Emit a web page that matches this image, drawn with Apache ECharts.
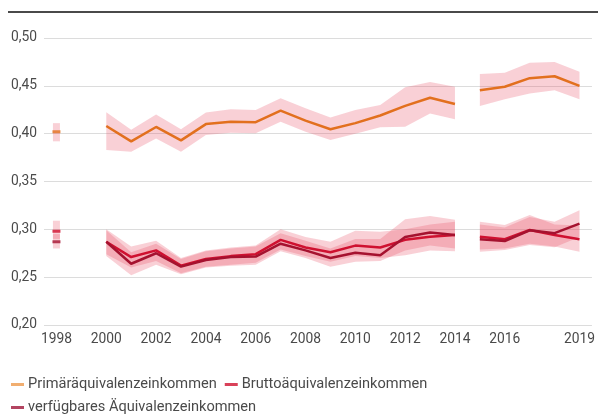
<!DOCTYPE html>
<html><head><meta charset="utf-8">
<script src="https://cdn.jsdelivr.net/npm/echarts@6/dist/echarts.min.js"></script>
<style>html,body{margin:0;padding:0;background:#fff}#c{width:598px;height:415px}</style>
</head><body><div id="c"></div>
<script>
const years = ['1998','1999','2000','2001','2002','2003','2004','2005','2006','2007','2008','2009','2010','2011','2012','2013','2014','2015','2016','2017','2018','2019'];
const shownLabels = ['1998','2000','2002','2004','2006','2008','2010','2012','2014','2016','2019'];
const segments = [['1998','1998'],['2000','2014'],['2015','2019']];
const yTicks = [0.20,0.25,0.30,0.35,0.40,0.45,0.50];

const primaer   = [0.402,null,0.408,0.392,0.407,0.393,0.410,0.4125,0.412,0.424,0.4136,0.4046,0.411,0.419,0.429,0.4375,0.431,0.4455,0.449,0.458,0.460,0.450];
const primaerLo = [0.392,null,0.383,0.381,0.395,0.381,0.3985,0.401,0.4005,0.4125,0.402,0.3935,0.400,0.4066,0.4073,0.421,0.415,0.429,0.436,0.442,0.4455,0.436];
const primaerHi = [0.411,null,0.4225,0.404,0.420,0.4045,0.422,0.4255,0.4247,0.437,0.4265,0.417,0.4247,0.430,0.4484,0.454,0.449,0.4624,0.4637,0.474,0.475,0.4648];

const brutto   = [0.298,null,0.287,0.271,0.278,0.262,0.269,0.272,0.274,0.289,0.281,0.276,0.283,0.281,0.289,0.2923,0.294,0.2923,0.2896,0.2993,0.294,0.2896];
const bruttoLo = [0.290,null,0.274,0.260,0.267,0.254,0.261,0.263,0.265,0.279,0.272,0.266,0.272,0.270,0.273,0.278,0.277,0.279,0.280,0.285,0.282,0.2766];
const bruttoHi = [0.309,null,0.300,0.282,0.288,0.270,0.278,0.281,0.283,0.300,0.292,0.287,0.2986,0.2975,0.300,0.305,0.308,0.308,0.3045,0.315,0.305,0.304];

const verf   = [0.287,null,0.287,0.264,0.275,0.261,0.268,0.271,0.2715,0.285,0.278,0.270,0.2756,0.273,0.292,0.2966,0.294,0.2896,0.2878,0.299,0.296,0.306];
const verfLo = [0.280,null,0.272,0.252,0.263,0.253,0.260,0.262,0.263,0.277,0.270,0.261,0.266,0.267,0.278,0.283,0.280,0.2766,0.2784,0.2836,0.2812,0.292];
const verfHi = [0.295,null,0.299,0.276,0.285,0.269,0.277,0.280,0.282,0.296,0.288,0.280,0.290,0.290,0.3105,0.314,0.310,0.305,0.302,0.313,0.308,0.320];

const names = ['Primäräquivalenzeinkommen','Bruttoäquivalenzeinkommen','verfügbares Äquivalenzeinkommen'];
const colors = ['#e2701e','#cf1130','#a5122f'];
const legendColors = ['#ee9a4c','#cf1130','#a0163a'];
const bandColor = 'rgba(232,72,95,0.26)';
const FONT = 'Roboto, "Liberation Sans", sans-serif';

function bandSeries(id, lo, hi) {
  return {
    type: 'custom', id: id, silent: true, z: 1,
    data: segments.map(s => [years.indexOf(s[0]), lo[years.indexOf(s[0])]]),
    encode: { x: 0, y: 1 },
    renderItem: function (params, api) {
      const seg = segments[params.dataIndex];
      const a = years.indexOf(seg[0]), b = years.indexOf(seg[1]);
      if (a === b) {
        const p1 = api.coord([a, hi[a]]), p2 = api.coord([a, lo[a]]);
        return { type: 'rect', shape: { x: p1[0] - 3.5, y: p1[1], width: 7, height: p2[1] - p1[1] }, style: { fill: bandColor } };
      }
      const pts = [];
      for (let i = a; i <= b; i++) pts.push(api.coord([i, hi[i]]));
      for (let i = b; i >= a; i--) pts.push(api.coord([i, lo[i]]));
      return { type: 'polygon', shape: { points: pts }, style: { fill: bandColor } };
    }
  };
}

function lineSeries(name, vals, color) {
  const out = [];
  segments.forEach(s => {
    const a = years.indexOf(s[0]), b = years.indexOf(s[1]);
    if (a === b) {
      out.push({ type: 'scatter', name: name, z: 5, symbol: 'rect', symbolSize: [8, 3], itemStyle: { color: color }, silent: true,
        data: [[a, vals[a]]] });
    } else {
      out.push({ type: 'line', name: name, z: 4, showSymbol: false, silent: true,
        lineStyle: { color: color, width: 2.5 }, itemStyle: { color: color },
        data: vals.map((v, i) => (i >= a && i <= b) ? v : null) });
    }
  });
  return out;
}

const chart = echarts.init(document.getElementById('c'), null, { renderer: 'canvas' });
chart.setOption({
  animation: false,
  backgroundColor: '#fff',
  grid: { left: 44, right: 6, top: 38, bottom: 90, containLabel: false },
  graphic: [{ type: 'line', shape: { x1: 8, y1: 12, x2: 598, y2: 12 }, style: { stroke: '#4a4a4a', lineWidth: 2 } }],
  legend: {
    left: 6, top: 372, width: 480, itemWidth: 13, itemHeight: 3, itemGap: 8, icon: 'rect',
    textStyle: { fontFamily: FONT, fontSize: 14.6, color: '#4a4a4a', padding: [0, 0, 0, -1] },
    data: names.map((n, i) => ({ name: n, itemStyle: { color: legendColors[i] } })),
    selectedMode: false
  },
  xAxis: {
    type: 'category', data: years, boundaryGap: true,
    axisLine: { show: false }, axisTick: { show: false },
    axisLabel: { interval: (idx, v) => shownLabels.includes(v), margin: 8, fontFamily: FONT, fontSize: 13.8, color: '#4a4a4a' },
    splitLine: { show: false }
  },
  yAxis: {
    type: 'value', min: yTicks[0], max: yTicks[yTicks.length - 1], interval: 0.05,
    axisLine: { show: false }, axisTick: { show: false },
    axisLabel: { margin: 7, fontFamily: FONT, fontSize: 13.8, color: '#4a4a4a', formatter: v => v.toFixed(2).replace('.', ',') },
    splitLine: { lineStyle: { color: '#dcdcdc', width: 1 } }
  },
  series: [
    ...lineSeries(names[0], primaer, colors[0]),
    ...lineSeries(names[1], brutto, colors[1]),
    ...lineSeries(names[2], verf, colors[2]),
    bandSeries('bandP', primaerLo, primaerHi),
    bandSeries('bandB', bruttoLo, bruttoHi),
    bandSeries('bandV', verfLo, verfHi)
  ]
});
</script></body></html>
